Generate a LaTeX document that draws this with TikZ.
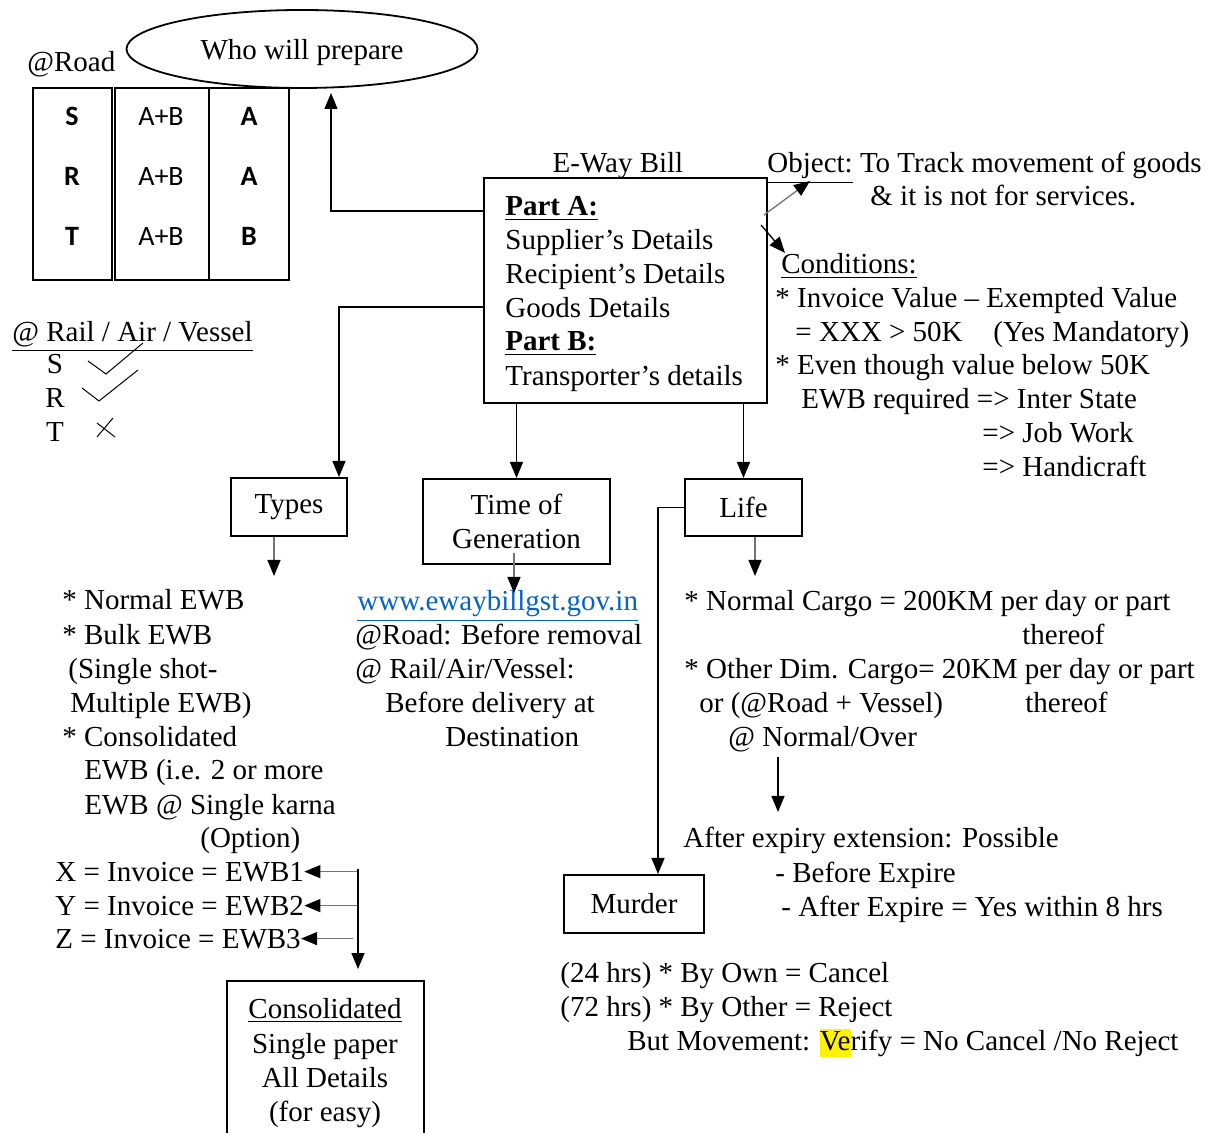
\documentclass[tikz,border=0pt]{standalone}
\usepackage{fontspec}
\setmainfont{Liberation Serif}
\newfontfamily\tblfont{Carlito}
\usetikzlibrary{arrows.meta,shapes.geometric,calc}

\definecolor{linkblue}{HTML}{0563C1}
\newcommand{\hilite}[1]{{\fboxsep=0pt\colorbox{yellow}{\rule[-3.5pt]{0pt}{14pt}#1}}}

\tikzset{
    txt/.style={anchor=base west, inner sep=0pt},
    ctxt/.style={anchor=base, inner sep=0pt},
    box/.style={draw, line width=1pt, inner sep=0pt},
    tbl/.style={anchor=base, inner sep=0pt, font=\tblfont\fontsize{14}{17}\selectfont},
    arr/.style={line width=0.65pt, -{Triangle[length=8pt,width=6.5pt]}},
    garr/.style={line width=0.65pt, draw=black!55, -{Triangle[length=8pt,width=6.5pt,black]}},
}

\begin{document}
\begin{tikzpicture}[x=0.5pt, y=-0.5pt, font=\fontsize{14.5}{17}\selectfont]
    \useasboundingbox (0,0) rectangle (1211,1133);

    % who prepares it, by road
    \node (road) [txt] at (27,72) {@Road};
    \node (who) [ellipse, draw, line width=0.9pt, minimum width=175.5pt, minimum height=39pt, inner sep=0pt, text depth=0pt] at (302,49) {Who will prepare};
    \node (colS) [box, minimum width=39.5pt, minimum height=96pt] at (72.5,184) {};
    \node (colAB) [box, minimum width=47pt, minimum height=96pt] at (162,184) {};
    \node (colP) [box, minimum width=40pt, minimum height=96pt] at (249,184) {};
    \node (s1) [tbl] at (72,126) {\textbf{S}};
    \node (r1) [tbl] at (72,186) {\textbf{R}};
    \node (t1) [tbl] at (72,246) {\textbf{T}};
    \node (ab1) [tbl] at (161,126) {A+B};
    \node (ab2) [tbl] at (161,186) {A+B};
    \node (ab3) [tbl] at (161,246) {A+B};
    \node (p1) [tbl] at (249,126) {\textbf{A}};
    \node (p2) [tbl] at (249,186) {\textbf{A}};
    \node (p3) [tbl] at (249,246) {\textbf{B}};

    % rail / air / vessel
    \node (rav) [txt] at (12,342) {\underline{@ Rail / Air / Vessel}};
    \node (s2) [ctxt] at (55,374) {S};
    \node (r2) [ctxt] at (55,408) {R};
    \node (t2) [ctxt] at (55,442) {T};
    \draw [line width=0.5pt] (88,361) -- (106,374) -- (143,343);
    \draw [line width=0.5pt] (82,388) -- (99,401) -- (138,370);
    \draw [line width=0.5pt] (97,423) -- (115,437) (97,437) -- (113,418);

    % e-way bill box
    \node (title) [ctxt] at (618,173) {E-Way Bill};
    \node (ewb) [box, minimum width=141.5pt, minimum height=112.5pt] at (625.5,290.5) {};
    \node (parta) [txt] at (505,216) {\underline{\textbf{Part A:}}};
    \node (sup) [txt] at (505,250) {Supplier's Details};
    \node (rec) [txt] at (505,284) {Recipient's Details};
    \node (goods) [txt] at (505,318) {Goods Details};
    \node (partb) [txt] at (505,351) {\underline{\textbf{Part B:}}};
    \node (trans) [txt] at (505,386) {Transporter's details};

    % object and conditions
    \node (obj) [txt] at (767,173) {\underline{Object:} To Track movement of goods};
    \node (obj2) [txt] at (870,206) {\& it is not for services.};
    \node (cond) [txt] at (781,274) {\underline{Conditions:}};
    \node (c1) [txt] at (775,308) {* Invoice Value -- Exempted Value};
    \node (c2) [txt] at (795,342) {= XXX > 50K};
    \node (c2b) [txt] at (993,342) {(Yes Mandatory)};
    \node (c3) [txt] at (775,375) {* Even though value below 50K};
    \node (c4) [txt] at (801,409) {EWB required => Inter State};
    \node (c5) [txt] at (982,443) {=> Job Work};
    \node (c6) [txt] at (982,477) {=> Handicraft};
    \coordinate (objin) at (810,181);
    \coordinate (condin) at (785,253);

    % the three heads
    \node (types) [box, minimum width=58pt, minimum height=29pt] at (289,507) {Types};
    \node (timegen) [box, minimum width=93.5pt, minimum height=42.5pt, align=center] at (516.5,521.5) {Time of\\Generation};
    \node (life) [box, minimum width=58.5pt, minimum height=28.5pt] at (743.5,507.5) {Life};
    \node (murder) [box, minimum width=70pt, minimum height=29pt] at (634,904) {Murder};

    % types
    \node (ty1) [txt] at (62,610) {* Normal EWB};
    \node (ty2) [txt] at (62,645) {* Bulk EWB};
    \node (ty3) [txt] at (68,679) {(Single shot-};
    \node (ty4) [txt] at (70,713) {Multiple EWB)};
    \node (ty5) [txt] at (62,747) {* Consolidated};
    \node (ty6) [txt] at (84,780) {EWB (i.e. 2 or more};
    \node (ty7) [txt] at (84,814) {EWB @ Single karna};
    \node (ty8) [txt] at (200,848) {(Option)};
    \node (ewb1) [txt] at (55,881) {X = Invoice = EWB1};
    \node (ewb2) [txt] at (55,915) {Y = Invoice = EWB2};
    \node (ewb3) [txt] at (55,948) {Z = Invoice = EWB3};
    \coordinate (hub) at (358,869);
    \node (consol) [box, minimum width=98.5pt, minimum height=85pt] at (325.5,1066) {};
    \node (co1) [ctxt] at (325,1018) {\underline{Consolidated}};
    \node (co2) [ctxt] at (325,1053) {Single paper};
    \node (co3) [ctxt] at (325,1087) {All Details};
    \node (co4) [ctxt] at (325,1121) {(for easy)};

    % time of generation
    \node (link) [txt] at (357,611) {\textcolor{linkblue}{\underline{www.ewaybillgst.gov.in}}};
    \node (tg1) [txt] at (355,645) {@Road: Before removal};
    \node (tg2) [txt] at (355,679) {@ Rail/Air/Vessel:};
    \node (tg3) [txt] at (385,713) {Before delivery at};
    \node (tg4) [txt] at (445,747) {Destination};

    % life
    \node (l1) [txt] at (684,611) {* Normal Cargo = 200KM per day or part};
    \node (l2) [txt] at (1022,645) {thereof};
    \node (l3) [txt] at (684,679) {* Other Dim. Cargo= 20KM per day or part};
    \node (l4) [txt] at (699,713) {or (@Road + Vessel)};
    \node (l5) [txt] at (1025,713) {thereof};
    \node (l6) [txt] at (728,747) {@ Normal/Over};
    \coordinate (expin) at (778,757);
    \coordinate (expout) at (778,812);
    \node (x1) [txt] at (683,848) {After expiry extension: Possible};
    \node (x2) [txt] at (775,882) {- Before Expire};
    \node (x3) [txt] at (781,916) {- After Expire = Yes within 8 hrs};

    % murder
    \node (m1) [txt] at (560,982) {(24 hrs) * By Own = Cancel};
    \node (m2) [txt] at (560,1016) {(72 hrs) * By Other = Reject};
    \node (m3) [txt] at (627,1050) {But Movement: \hilite{Ve}rify = No Cancel /No Reject};

    % connectors
    \coordinate (whoin) at (331,93);
    \draw [arr] ($(ewb.north west)+(0,34)$) -| (whoin);
    \draw [arr] ($(ewb.north west)+(0,130)$) -| ($(types.north east)+(-9,0)$);
    \draw [arr] (ewb.south -| timegen.north) -- (timegen.north);
    \draw [arr] (ewb.south -| life.north) -- (life.north);
    \draw [garr] ($(ewb.north east)+(-4,38)$) -- (objin);
    \draw [arr] ($(ewb.north east)+(-7,48)$) -- (condin);
    \draw [garr] ($(types.south)+(-15,0)$) -- ++(0,39);
    \draw [garr] ($(timegen.south)+(-2.5,-12)$) -- ++(0,40);
    \draw [garr] ($(life.south)+(11.5,0)$) -- ++(0,39);
    \draw [arr] (life.west) -| ($(murder.north)+(24,0)$);
    \draw [arr] (expin) -- (expout);
    \draw [garr] (hub |- ewb1.east) -- (ewb1.east);
    \draw [garr] (hub |- ewb2.east) -- (ewb2.east);
    \draw [garr] ($(hub |- ewb3.east)+(-5,0)$) -- (ewb3.east);
    \draw [arr] (hub) -- ($(consol.north -| hub)+(0,-11)$);
\end{tikzpicture}
\end{document}
